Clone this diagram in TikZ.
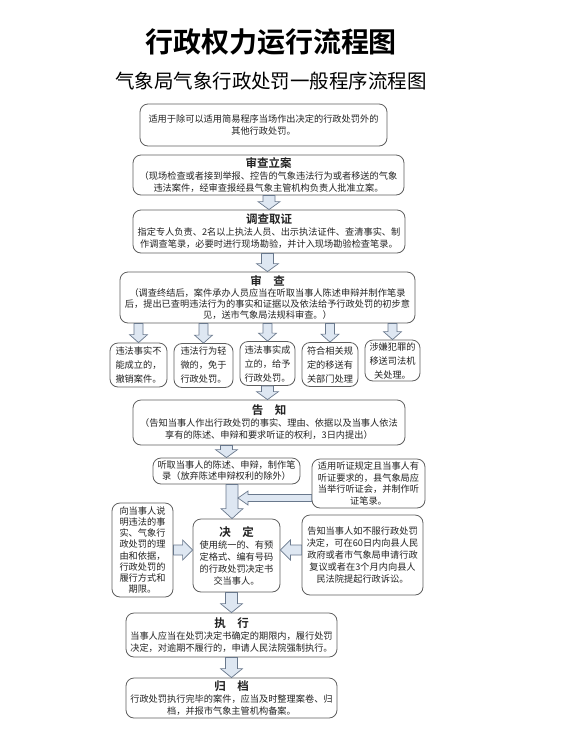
\documentclass[tikz,border=0pt]{standalone}
\usepackage{fontspec}
\setmainfont{Noto Sans CJK SC}[BoldFont={Noto Sans CJK SC Bold}]
\usetikzlibrary{calc}
\definecolor{boxline}{RGB}{95,95,95}
\definecolor{arrfill}{RGB}{222,231,242}
\definecolor{arrline}{RGB}{105,120,140}
\definecolor{txt}{RGB}{35,35,35}
\tikzset{
  box/.style={draw=boxline, line width=0.8pt, rounded corners=8pt, fill=white,
    inner sep=0pt, align=center, text=txt, font=\fontsize{9.2}{12}\selectfont},
  blockarrow/.style={draw=arrline, fill=arrfill, line width=0.7pt, line join=miter},
  titletext/.style={inner sep=0pt, font=\fontsize{28}{30}\selectfont\bfseries},
  subtitletext/.style={inner sep=0pt, font=\fontsize{19.5}{22}\selectfont}
}
\newcommand{\hdg}[1]{{\fontsize{11.5}{12}\selectfont\bfseries #1}}
% vertical block arrow: x from #1, from #2 (south) to #3 (north)
\newcommand{\vblk}[6]{\draw[blockarrow] let \p3=(#1), \p1=(#2), \p2=(#3) in
  (\x3-#4pt,\y1) -- (\x3+#4pt,\y1) -- (\x3+#4pt,\y2+#6pt) -- (\x3+#5pt,\y2+#6pt)
  -- (\x3,\y2) -- (\x3-#5pt,\y2+#6pt) -- (\x3-#4pt,\y2+#6pt) -- cycle;}
% horizontal block arrow pointing left
\newcommand{\hblkL}[6]{\draw[blockarrow] let \p3=(#1), \p1=(#2), \p2=(#3) in
  (\x1,\y3+#4pt) -- (\x1,\y3-#4pt) -- (\x2+#6pt,\y3-#4pt) -- (\x2+#6pt,\y3-#5pt)
  -- (\x2,\y3) -- (\x2+#6pt,\y3+#5pt) -- (\x2+#6pt,\y3+#4pt) -- cycle;}
% horizontal block arrow pointing right
\newcommand{\hblkR}[6]{\draw[blockarrow] let \p3=(#1), \p1=(#2), \p2=(#3) in
  (\x1,\y3+#4pt) -- (\x1,\y3-#4pt) -- (\x2-#6pt,\y3-#4pt) -- (\x2-#6pt,\y3-#5pt)
  -- (\x2,\y3) -- (\x2-#6pt,\y3+#5pt) -- (\x2-#6pt,\y3+#4pt) -- cycle;}
\begin{document}
\begin{tikzpicture}[x=1pt,y=-1pt]
\fill[white] (0,0) rectangle (572,729);
\useasboundingbox (0,0) rectangle (572,729);

\node[titletext] (title) at (271,42) {行政权力运行流程图};
\node[subtitletext] (subtitle) at (271,81) {气象局气象行政处罚一般程序流程图};

\node[box, minimum width=247pt, minimum height=42pt] (b1) at (263.5,125)
  {适用于除可以适用简易程序当场作出决定的行政处罚外的\\其他行政处罚。};
\node[box, minimum width=271pt, minimum height=40pt] (b2) at (268.5,175)
  {\hdg{审查立案}\\（现场检查或者接到举报、控告的气象违法行为或者移送的气象\\违法案件，经审查报经县气象主管机构负责人批准立案。};
\node[box, minimum width=272pt, minimum height=43pt] (b3) at (269,231.5)
  {\hdg{调查取证}\\指定专人负责、2名以上执法人员、出示执法证件、查清事实、制\\作调查笔录，必要时进行现场勘验，并计入现场勘验检查笔录。};
\node[box, minimum width=295pt, minimum height=51pt, font=\fontsize{9.2}{11}\selectfont] (b4) at (267.5,297.5)
  {\hdg{审　查}\\（调查终结后，案件承办人员应当在听取当事人陈述申辩并制作笔录\\后，提出已查明违法行为的事实和证据以及依法给予行政处罚的初步意\\见，送市气象局法规科审查。）};

\tikzset{small/.style={box, minimum width=56pt, minimum height=44pt, font=\fontsize{9.2}{14}\selectfont}}
\node[small, minimum width=57pt] (sa) at (138.5,365) {违法事实不\\能成立的，\\撤销案件。};
\node[small, minimum width=59pt] (sb) at (203.5,365.5) {违法行为轻\\微的，免于\\行政处罚。};
\node[small, minimum width=55pt] (sc) at (267.5,363.5) {违法事实成\\立的，给予\\行政处罚。};
\node[small, minimum width=56pt] (sd) at (330,364.5) {符合相关规\\定的移送有\\关部门处理};
\node[small, minimum width=55pt, minimum height=41pt] (se) at (392.5,360.5) {涉嫌犯罪的\\移送司法机\\关处理。};

\node[box, minimum width=272pt, minimum height=45pt] (gz) at (269,422.5)
  {\hdg{告　知}\\（告知当事人作出行政处罚的事实、理由、依据以及当事人依法\\享有的陈述、申辩和要求听证的权利，3日内提出）};

\node[box, minimum width=147pt, minimum height=26pt, font=\fontsize{9.2}{11}\selectfont] (tq) at (226.5,471)
  {听取当事人的陈述、申辩，制作笔\\录（放弃陈述申辩权利的除外）};
\node[box, minimum width=113pt, minimum height=49pt, font=\fontsize{9.2}{11.7}\selectfont] (tz) at (368.5,483.5)
  {适用听证规定且当事人有\\听证要求的，县气象局应\\当举行听证会，并制作听\\证笔录。};

\node[box, minimum width=61pt, minimum height=94pt, font=\fontsize{9.2}{11.2}\selectfont] (lb) at (142.5,550)
  {向当事人说\\明违法的事\\实、气象行\\政处罚的理\\由和依据，\\行政处罚的\\履行方式和\\期限。};
\node[box, minimum width=87pt, minimum height=73pt] (jd) at (236.5,555.5)
  {\hdg{决　定}\\使用统一的、有预\\定格式、编有号码\\的行政处罚决定书\\交当事人。};
\node[box, minimum width=121pt, minimum height=80pt] (rb) at (362.5,555)
  {告知当事人如不服行政处罚\\决定，可在60日内向县人民\\政府或者市气象局申请行政\\复议或者在3个月内向县人\\民法院提起行政诉讼。};

\node[box, minimum width=211pt, minimum height=44pt] (zx) at (231.5,635)
  {\hdg{执　行}\\当事人应当在处罚决定书确定的期限内，履行处罚\\决定，对逾期不履行的，申请人民法院强制执行。};
\node[box, minimum width=211pt, minimum height=40pt] (gd) at (231.5,698)
  {\hdg{归　档}\\行政处罚执行完毕的案件，应当及时整理案卷、归\\档，并报市气象主管机构备案。};

\coordinate (vx) at (232,498);
\coordinate (hj) at (238,498);

% arrows
\vblk{b3.north}{b2.south}{b3.north}{6}{11}{8}
\vblk{b4.north}{b3.south}{b4.north}{6}{11}{8}
\vblk{sa.north}{b4.south}{sa.north}{4.5}{9}{8}
\vblk{sb.north}{b4.south}{sb.north}{4.5}{9}{8}
\vblk{sc.north}{b4.south}{sc.north}{4.5}{9}{8}
\vblk{sd.north}{b4.south}{sd.north}{4.5}{9}{8}
\vblk{se.north}{b4.south}{se.north}{4.5}{9}{8}
\vblk{sc.south}{sc.south}{gz.north}{6}{11}{8}
\vblk{tq.north}{gz.south}{tq.north}{6}{11}{8}
\vblk{vx}{tq.south}{jd.north}{6}{11}{10}
\hblkL{hj}{tz.west}{hj}{3.5}{7}{10}
\hblkR{lb}{lb.east}{jd.west}{5}{10}{10}
\hblkL{lb}{rb.west}{jd.east}{5}{10}{10}
\vblk{zx.north}{jd.south}{zx.north}{6}{11}{9}
\vblk{gd.north}{zx.south}{gd.north}{6}{11}{9}
\end{tikzpicture}
\end{document}
